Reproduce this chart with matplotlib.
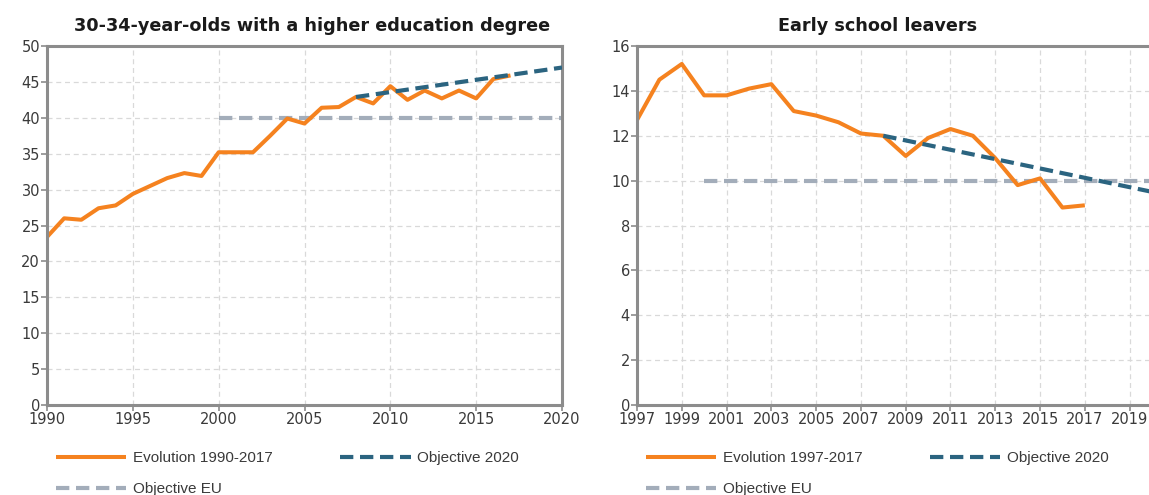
import matplotlib
matplotlib.use('Agg')
import matplotlib.pyplot as plt

# left chart: 30-34-year-olds with a higher education degree
years_edu = list(range(1990, 2018))
edu_values = [23.4, 26.0, 25.8, 27.4, 27.8, 29.4, 30.5, 31.6, 32.3, 31.9,
              35.2, 35.2, 35.2, 37.5, 39.9, 39.2, 41.4, 41.5, 42.9, 42.0,
              44.4, 42.5, 43.8, 42.7, 43.8, 42.7, 45.4, 45.9]
edu_goal_years = [2008, 2020]
edu_goal_values = [42.9, 47.0]
edu_eu_years = [2000, 2020]
edu_eu_values = [40, 40]

# right chart: early school leavers
years_esl = list(range(1997, 2018))
esl_values = [12.7, 14.5, 15.2, 13.8, 13.8, 14.1, 14.3, 13.1, 12.9, 12.6,
              12.1, 12.0, 11.1, 11.9, 12.3, 12.0, 11.0, 9.8, 10.1, 8.8, 8.9]
esl_goal_years = [2008, 2020]
esl_goal_values = [12.0, 9.5]
esl_eu_years = [2000, 2020]
esl_eu_values = [10, 10]

ORANGE = '#F5821F'
TEAL = '#2B6480'
GREY_BLUE = '#A3ADBA'
SPINE = '#8C8C8C'
TEXT = '#3A3A3A'

fig = plt.figure(figsize=(11.49, 4.95), dpi=100)
W, H = 1149, 495


def make_axes(left, right):
    return fig.add_axes([left / W, 1 - 405 / H, (right - left) / W, (405 - 46) / H])


def style_axes(ax):
    for s in ax.spines.values():
        s.set_color(SPINE)
        s.set_linewidth(2.2)
    ax.grid(True, color='#D9D9D9', linestyle=(0, (4, 3)), linewidth=0.9)
    ax.set_axisbelow(True)
    ax.tick_params(axis='both', colors=SPINE, labelcolor=TEXT, labelsize=10.5,
                   length=4, width=1.2, pad=1)


def draw(ax, years, values, gy, gv, ey, ev, label):
    l_eu, = ax.plot(ey, ev, color=GREY_BLUE, lw=3, dashes=(3.2, 1.6),
                    label='Objective EU')
    l_goal, = ax.plot(gy, gv, color=TEAL, lw=3, dashes=(3.2, 1.6),
                      label='Objective 2020')
    l_evo, = ax.plot(years, values, color=ORANGE, lw=2.9, label=label,
                     solid_capstyle='butt')
    l_goal.set_zorder(3)
    l_evo.set_zorder(2)
    # reorder so that the legend reads row by row
    leg = ax.legend([l_evo, l_eu, l_goal], [label, 'Objective EU', 'Objective 2020'],
                    loc='upper left', bbox_to_anchor=(-0.009, -0.09), ncol=2,
                    frameon=False, handlelength=4.6, handletextpad=0.45,
                    columnspacing=4.4, labelspacing=1.1,
                    prop={'family': 'Liberation Sans', 'size': 11})
    for t in leg.get_texts():
        t.set_color(TEXT)


ax1 = make_axes(47, 562)
style_axes(ax1)
draw(ax1, years_edu, edu_values, edu_goal_years, edu_goal_values,
     edu_eu_years, edu_eu_values, 'Evolution 1990-2017')
ax1.set_xlim(1990, 2020)
ax1.set_ylim(0, 50)
ax1.set_xticks(range(1990, 2021, 5))
ax1.set_yticks(range(0, 51, 5))
ax1.set_title('30-34-year-olds with a higher education degree',
              fontsize=12.7, fontweight='bold', color='#1A1A1A', pad=11,
              x=(312 - 47) / 515)

ax2 = make_axes(637, 1152)
style_axes(ax2)
ax2.spines['right'].set_visible(False)
draw(ax2, years_esl, esl_values, esl_goal_years, esl_goal_values,
     esl_eu_years, esl_eu_values, 'Evolution 1997-2017')
ax2.set_xlim(1997, 2020)
ax2.set_ylim(0, 16)
ax2.set_xticks(range(1997, 2020, 2))
ax2.set_yticks(range(0, 17, 2))
ax2.set_title('Early school leavers', fontsize=12.7, fontweight='bold',
              color='#1A1A1A', pad=11, x=(878 - 637) / 515)

fig.savefig('out.png', dpi=100)
